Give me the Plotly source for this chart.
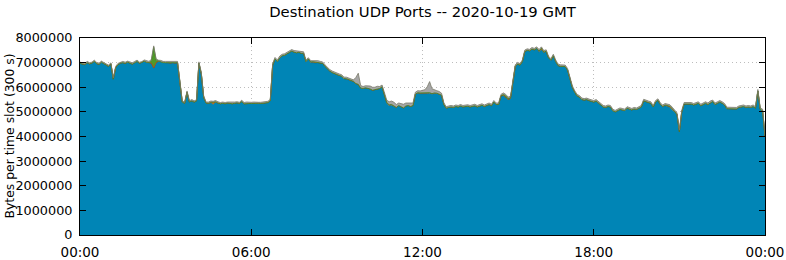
import plotly.graph_objects as go

# Time slots (hours) every 5 minutes, 00:00 .. 24:00
SLOT_MIN = 5
N_SLOTS = 289
hours = [i * SLOT_MIN / 60 for i in range(N_SLOTS)]

# Values in millions of bytes per 300 s slot
blue_m = [
    # 00h
    6.97, 6.95, 6.92, 7.00, 6.95, 6.98, 7.05, 6.96, 6.93, 7.02, 6.97, 6.90,
    # 01h
    6.85, 6.95, 6.33, 6.80, 6.92, 6.98, 7.00, 6.97, 7.02, 6.98, 6.94, 7.00,
    # 02h
    7.05, 6.97, 7.00, 7.06, 7.02, 7.00, 6.98, 6.78, 7.00, 7.06, 7.04, 7.00,
    # 03h
    7.00, 7.00, 6.98, 7.00, 6.98, 7.00, 6.20, 5.40, 5.35, 5.80, 5.40, 5.45,
    # 04h
    5.40, 5.45, 6.98, 6.55, 5.60, 5.36, 5.35, 5.36, 5.30, 5.38, 5.36, 5.33,
    # 05h
    5.35, 5.33, 5.36, 5.34, 5.33, 5.35, 5.37, 5.34, 5.42, 5.33, 5.35, 5.34,
    # 06h
    5.34, 5.35, 5.33, 5.35, 5.34, 5.36, 5.35, 5.38, 5.45, 6.90, 7.15, 7.05,
    # 07h
    7.20, 7.28, 7.30, 7.35, 7.42, 7.47, 7.43, 7.40, 7.42, 7.38, 7.38, 7.05,
    # 08h
    7.15, 7.00, 7.00, 6.98, 7.00, 6.98, 6.97, 6.85, 6.75, 6.66, 6.60, 6.55,
    # 09h
    6.50, 6.48, 6.45, 6.35, 6.33, 6.28, 6.25, 6.22, 6.15, 6.12, 5.97, 5.95,
    # 10h
    5.98, 5.97, 5.93, 5.88, 5.90, 5.92, 5.95, 6.02, 5.70, 5.35, 5.25, 5.26,
    # 11h
    5.22, 5.18, 5.26, 5.20, 5.16, 5.24, 5.26, 5.22, 5.26, 5.72, 5.75, 5.74,
    # 12h
    5.74, 5.72, 5.74, 5.76, 5.72, 5.75, 5.76, 5.73, 5.68, 5.30, 5.15, 5.18,
    # 13h
    5.20, 5.18, 5.22, 5.20, 5.24, 5.20, 5.22, 5.23, 5.20, 5.22, 5.25, 5.20,
    # 14h
    5.23, 5.27, 5.22, 5.26, 5.30, 5.25, 5.40, 5.30, 5.30, 5.65, 5.68, 5.60,
    # 15h
    5.50, 5.55, 6.20, 6.85, 6.95, 6.90, 7.05, 7.45, 7.50, 7.48, 7.55, 7.52,
    # 16h
    7.58, 7.42, 7.52, 7.40, 7.46, 7.20, 7.10, 7.28, 7.05, 6.88, 6.85, 6.85,
    # 17h
    6.84, 6.70, 6.30, 6.00, 5.80, 5.65, 5.60, 5.50, 5.48, 5.50, 5.46, 5.44,
    # 18h
    5.40, 5.44, 5.35, 5.25, 5.20, 5.18, 5.22, 5.20, 5.05, 5.00, 5.05, 5.10,
    # 19h
    5.08, 5.05, 5.15, 5.10, 5.08, 5.12, 5.10, 5.15, 5.20, 5.45, 5.40, 5.38,
    # 20h
    5.35, 5.20, 5.40, 5.47, 5.30, 5.22, 5.25, 5.20, 5.18, 5.08, 5.00, 4.90,
    # 21h
    4.20, 5.00, 5.32, 5.32, 5.30, 5.32, 5.28, 5.32, 5.35, 5.25, 5.30, 5.35,
    # 22h
    5.30, 5.38, 5.42, 5.30, 5.35, 5.40, 5.35, 5.28, 5.13, 5.12, 5.11, 5.13,
    # 23h
    5.12, 5.18, 5.20, 5.22, 5.18, 5.20, 5.18, 5.22, 5.15, 5.85, 5.10, 5.05,
    # 24h
    4.00,
]

orange_m = [
    0.00, 0.00, 0.00, 0.00, 0.00, 0.00, 0.00, 0.00, 0.00, 0.00, 0.00, 0.00,
    0.00, 0.00, 0.00, 0.00, 0.00, 0.00, 0.00, 0.00, 0.00, 0.00, 0.00, 0.00,
    0.00, 0.00, 0.00, 0.00, 0.00, 0.00, 0.00, 0.00, 0.00, 0.00, 0.00, 0.00,
    0.00, 0.00, 0.00, 0.00, 0.00, 0.00, 0.00, 0.00, 0.00, 0.00, 0.00, 0.00,
    0.00, 0.00, 0.00, 0.00, 0.00, 0.00, 0.00, 0.03, 0.09, 0.03, 0.00, 0.00,
    0.00, 0.00, 0.00, 0.00, 0.00, 0.00, 0.00, 0.00, 0.00, 0.00, 0.00, 0.00,
    0.00, 0.00, 0.00, 0.00, 0.00, 0.00, 0.00, 0.00, 0.00, 0.00, 0.00, 0.00,
    0.00, 0.00, 0.00, 0.00, 0.00, 0.00, 0.00, 0.00, 0.00, 0.00, 0.00, 0.00,
    0.00, 0.03, 0.04, 0.04, 0.03, 0.02, 0.00, 0.00, 0.00, 0.00, 0.00, 0.00,
    0.00, 0.00, 0.00, 0.00, 0.02, 0.04, 0.04, 0.02, 0.00, 0.00, 0.00, 0.00,
    0.00, 0.00, 0.00, 0.00, 0.00, 0.00, 0.00, 0.00, 0.00, 0.02, 0.04, 0.04,
    0.02, 0.00, 0.00, 0.00, 0.00, 0.00, 0.00, 0.00, 0.00, 0.00, 0.03, 0.03,
    0.03, 0.03, 0.03, 0.02, 0.02, 0.02, 0.00, 0.00, 0.00, 0.00, 0.00, 0.00,
    0.00, 0.00, 0.00, 0.00, 0.00, 0.00, 0.00, 0.00, 0.00, 0.00, 0.00, 0.00,
    0.00, 0.00, 0.00, 0.00, 0.00, 0.00, 0.00, 0.00, 0.00, 0.00, 0.00, 0.00,
    0.00, 0.00, 0.00, 0.00, 0.00, 0.00, 0.00, 0.00, 0.00, 0.00, 0.00, 0.00,
    0.00, 0.05, 0.06, 0.03, 0.00, 0.00, 0.00, 0.00, 0.00, 0.00, 0.00, 0.00,
    0.00, 0.00, 0.00, 0.00, 0.00, 0.00, 0.00, 0.00, 0.00, 0.00, 0.00, 0.00,
    0.00, 0.00, 0.00, 0.00, 0.00, 0.00, 0.00, 0.00, 0.00, 0.00, 0.00, 0.00,
    0.00, 0.00, 0.00, 0.00, 0.00, 0.00, 0.00, 0.00, 0.00, 0.00, 0.00, 0.00,
    0.00, 0.00, 0.00, 0.00, 0.00, 0.00, 0.03, 0.04, 0.05, 0.05, 0.03, 0.00,
    0.00, 0.00, 0.00, 0.00, 0.00, 0.00, 0.00, 0.00, 0.00, 0.00, 0.00, 0.00,
    0.00, 0.00, 0.00, 0.00, 0.00, 0.00, 0.00, 0.00, 0.00, 0.00, 0.00, 0.00,
    0.00, 0.00, 0.00, 0.00, 0.00, 0.00, 0.00, 0.00, 0.00, 0.00, 0.00, 0.00,
    0.00,
]

green_m = [
    0.00, 0.00, 0.00, 0.00, 0.00, 0.00, 0.00, 0.00, 0.00, 0.00, 0.00, 0.00,
    0.00, 0.00, 0.00, 0.00, 0.00, 0.00, 0.00, 0.00, 0.00, 0.00, 0.00, 0.00,
    0.00, 0.00, 0.00, 0.00, 0.00, 0.00, 0.10, 0.85, 0.10, 0.00, 0.00, 0.00,
    0.00, 0.00, 0.00, 0.00, 0.00, 0.00, 0.00, 0.00, 0.00, 0.00, 0.00, 0.00,
    0.00, 0.00, 0.00, 0.00, 0.00, 0.00, 0.00, 0.00, 0.00, 0.00, 0.00, 0.00,
    0.00, 0.00, 0.00, 0.00, 0.00, 0.00, 0.00, 0.00, 0.00, 0.00, 0.00, 0.00,
    0.00, 0.00, 0.00, 0.00, 0.00, 0.00, 0.00, 0.00, 0.00, 0.00, 0.00, 0.00,
    0.00, 0.00, 0.00, 0.00, 0.00, 0.00, 0.00, 0.00, 0.00, 0.00, 0.00, 0.00,
    0.00, 0.00, 0.00, 0.00, 0.00, 0.00, 0.00, 0.00, 0.00, 0.00, 0.00, 0.00,
    0.00, 0.00, 0.00, 0.00, 0.00, 0.00, 0.00, 0.00, 0.00, 0.00, 0.00, 0.00,
    0.00, 0.00, 0.00, 0.00, 0.00, 0.00, 0.00, 0.00, 0.00, 0.00, 0.00, 0.00,
    0.00, 0.00, 0.00, 0.00, 0.00, 0.00, 0.00, 0.00, 0.00, 0.00, 0.00, 0.00,
    0.00, 0.00, 0.00, 0.00, 0.00, 0.00, 0.00, 0.00, 0.00, 0.00, 0.00, 0.00,
    0.00, 0.00, 0.00, 0.00, 0.00, 0.00, 0.00, 0.00, 0.00, 0.00, 0.00, 0.00,
    0.00, 0.00, 0.00, 0.00, 0.00, 0.00, 0.00, 0.00, 0.00, 0.00, 0.03, 0.05,
    0.04, 0.02, 0.00, 0.00, 0.00, 0.00, 0.00, 0.00, 0.00, 0.00, 0.00, 0.00,
    0.00, 0.00, 0.00, 0.00, 0.00, 0.00, 0.00, 0.00, 0.00, 0.00, 0.00, 0.00,
    0.00, 0.00, 0.00, 0.00, 0.00, 0.00, 0.00, 0.00, 0.00, 0.00, 0.00, 0.00,
    0.00, 0.00, 0.00, 0.00, 0.00, 0.00, 0.00, 0.00, 0.00, 0.00, 0.00, 0.00,
    0.00, 0.00, 0.00, 0.00, 0.00, 0.00, 0.00, 0.00, 0.00, 0.00, 0.00, 0.00,
    0.00, 0.00, 0.00, 0.00, 0.00, 0.00, 0.00, 0.00, 0.00, 0.00, 0.00, 0.00,
    0.00, 0.00, 0.00, 0.00, 0.00, 0.00, 0.00, 0.00, 0.00, 0.00, 0.00, 0.00,
    0.00, 0.00, 0.00, 0.00, 0.00, 0.00, 0.00, 0.00, 0.00, 0.00, 0.00, 0.00,
    0.00, 0.00, 0.00, 0.00, 0.00, 0.00, 0.00, 0.00, 0.00, 0.00, 0.00, 0.00,
    0.00,
]

grey_m = [
    0.05, 0.05, 0.04, 0.05, 0.05, 0.04, 0.05, 0.05, 0.05, 0.04, 0.05, 0.05,
    0.05, 0.04, 0.05, 0.05, 0.05, 0.04, 0.05, 0.05, 0.04, 0.05, 0.05, 0.05,
    0.05, 0.05, 0.04, 0.05, 0.05, 0.05, 0.05, 0.05, 0.05, 0.04, 0.05, 0.05,
    0.05, 0.05, 0.05, 0.04, 0.05, 0.05, 0.05, 0.05, 0.04, 0.05, 0.05, 0.05,
    0.05, 0.04, 0.05, 0.05, 0.05, 0.04, 0.05, 0.05, 0.04, 0.05, 0.05, 0.05,
    0.05, 0.05, 0.04, 0.05, 0.05, 0.05, 0.04, 0.05, 0.05, 0.05, 0.05, 0.04,
    0.05, 0.05, 0.05, 0.04, 0.05, 0.05, 0.05, 0.05, 0.05, 0.06, 0.06, 0.06,
    0.07, 0.06, 0.06, 0.07, 0.06, 0.06, 0.06, 0.07, 0.06, 0.06, 0.06, 0.06,
    0.05, 0.05, 0.05, 0.05, 0.05, 0.05, 0.06, 0.06, 0.06, 0.06, 0.06, 0.06,
    0.06, 0.06, 0.06, 0.06, 0.06, 0.06, 0.06, 0.06, 0.25, 0.45, 0.10, 0.08,
    0.08, 0.10, 0.12, 0.12, 0.10, 0.12, 0.08, 0.07, 0.08, 0.10, 0.12, 0.14,
    0.15, 0.12, 0.10, 0.14, 0.15, 0.12, 0.10, 0.12, 0.10, 0.08, 0.08, 0.08,
    0.10, 0.15, 0.25, 0.45, 0.20, 0.12, 0.10, 0.10, 0.08, 0.06, 0.06, 0.06,
    0.06, 0.06, 0.06, 0.06, 0.06, 0.06, 0.06, 0.06, 0.06, 0.06, 0.06, 0.06,
    0.06, 0.06, 0.06, 0.06, 0.06, 0.06, 0.06, 0.06, 0.06, 0.06, 0.06, 0.06,
    0.06, 0.06, 0.06, 0.06, 0.06, 0.06, 0.06, 0.06, 0.06, 0.06, 0.06, 0.06,
    0.06, 0.06, 0.06, 0.06, 0.06, 0.06, 0.06, 0.06, 0.06, 0.06, 0.06, 0.06,
    0.06, 0.06, 0.06, 0.06, 0.06, 0.06, 0.06, 0.06, 0.06, 0.06, 0.06, 0.06,
    0.06, 0.06, 0.06, 0.06, 0.06, 0.06, 0.06, 0.06, 0.06, 0.06, 0.06, 0.06,
    0.06, 0.06, 0.06, 0.06, 0.06, 0.06, 0.06, 0.06, 0.06, 0.06, 0.06, 0.06,
    0.06, 0.06, 0.06, 0.06, 0.06, 0.06, 0.06, 0.06, 0.06, 0.06, 0.06, 0.06,
    0.06, 0.06, 0.06, 0.06, 0.06, 0.06, 0.06, 0.06, 0.06, 0.06, 0.06, 0.06,
    0.06, 0.06, 0.06, 0.06, 0.06, 0.06, 0.06, 0.06, 0.06, 0.06, 0.06, 0.06,
    0.06, 0.06, 0.06, 0.06, 0.06, 0.06, 0.06, 0.06, 0.06, 0.06, 0.06, 0.06,
    0.05,
]

x_tick_vals = [0, 6, 12, 18, 24]
x_tick_text = ["00:00", "06:00", "12:00", "18:00", "00:00"]
y_tick_vals = [0, 1000000, 2000000, 3000000, 4000000, 5000000, 6000000, 7000000, 8000000]
y_tick_text = ["0", "1000000", "2000000", "3000000", "4000000", "5000000", "6000000", "7000000", "8000000"]
y_title = "Bytes per time slot (300 s)"

MB = 1_000_000
series = [
    ("blue", blue_m, "#0085b6", "#0a6f96"),
    ("orange", orange_m, "#e07000", "#c04800"),
    ("green", green_m, "#4e9a28", "#3f7f20"),
    ("grey", grey_m, "#a6a6a6", "#7a7a6a"),
]

fig = go.Figure()
for name, vals, fill, line in series:
    fig.add_trace(go.Scatter(
        x=hours, y=[v * MB for v in vals], name=name,
        mode="lines", stackgroup="one",
        line=dict(color=line, width=0.8, shape="linear"),
        fillcolor=fill, hoverinfo="skip",
    ))

FONT = "DejaVu Sans"
GRID = "#bdbdbd"
fig.update_layout(
    width=786, height=260,
    margin=dict(l=80, r=21, t=38, b=25, autoexpand=False),
    paper_bgcolor="white", plot_bgcolor="white",
    showlegend=False,
    font=dict(family=FONT, size=13, color="black"),
    title=dict(text="Destination UDP Ports -- 2020-10-19 GMT",
               x=0.5375, xanchor="center", y=0.955, yanchor="middle",
               font=dict(family=FONT, size=14.8, color="black")),
)
fig.add_annotation(
    text=y_title, textangle=-90, showarrow=False,
    xref="paper", yref="paper", x=-0.1036, y=0.5,
    xanchor="center", yanchor="middle",
    font=dict(family=FONT, size=12.4, color="black"),
)
fig.update_xaxes(
    range=[0, 24], tickvals=x_tick_vals, ticktext=x_tick_text,
    showgrid=True, gridcolor=GRID, griddash="1px,3px", gridwidth=1,
    ticks="inside", ticklen=6, tickcolor="black", mirror="allticks",
    showline=True, linecolor="black", linewidth=1, zeroline=False,
    tickfont=dict(family=FONT, size=13.5), layer="above traces",
    automargin=False, ticklabelstandoff=5,
)
fig.update_yaxes(
    range=[0, 8000000], tickvals=y_tick_vals, ticktext=y_tick_text,
    showgrid=True, gridcolor=GRID, griddash="1px,3px", gridwidth=1,
    ticks="inside", ticklen=6, tickcolor="black", mirror="allticks",
    showline=True, linecolor="black", linewidth=1, zeroline=False,
    tickfont=dict(family=FONT, size=12.8), layer="above traces",
    automargin=False, ticklabelstandoff=4,
)

fig.write_html("out.html")
